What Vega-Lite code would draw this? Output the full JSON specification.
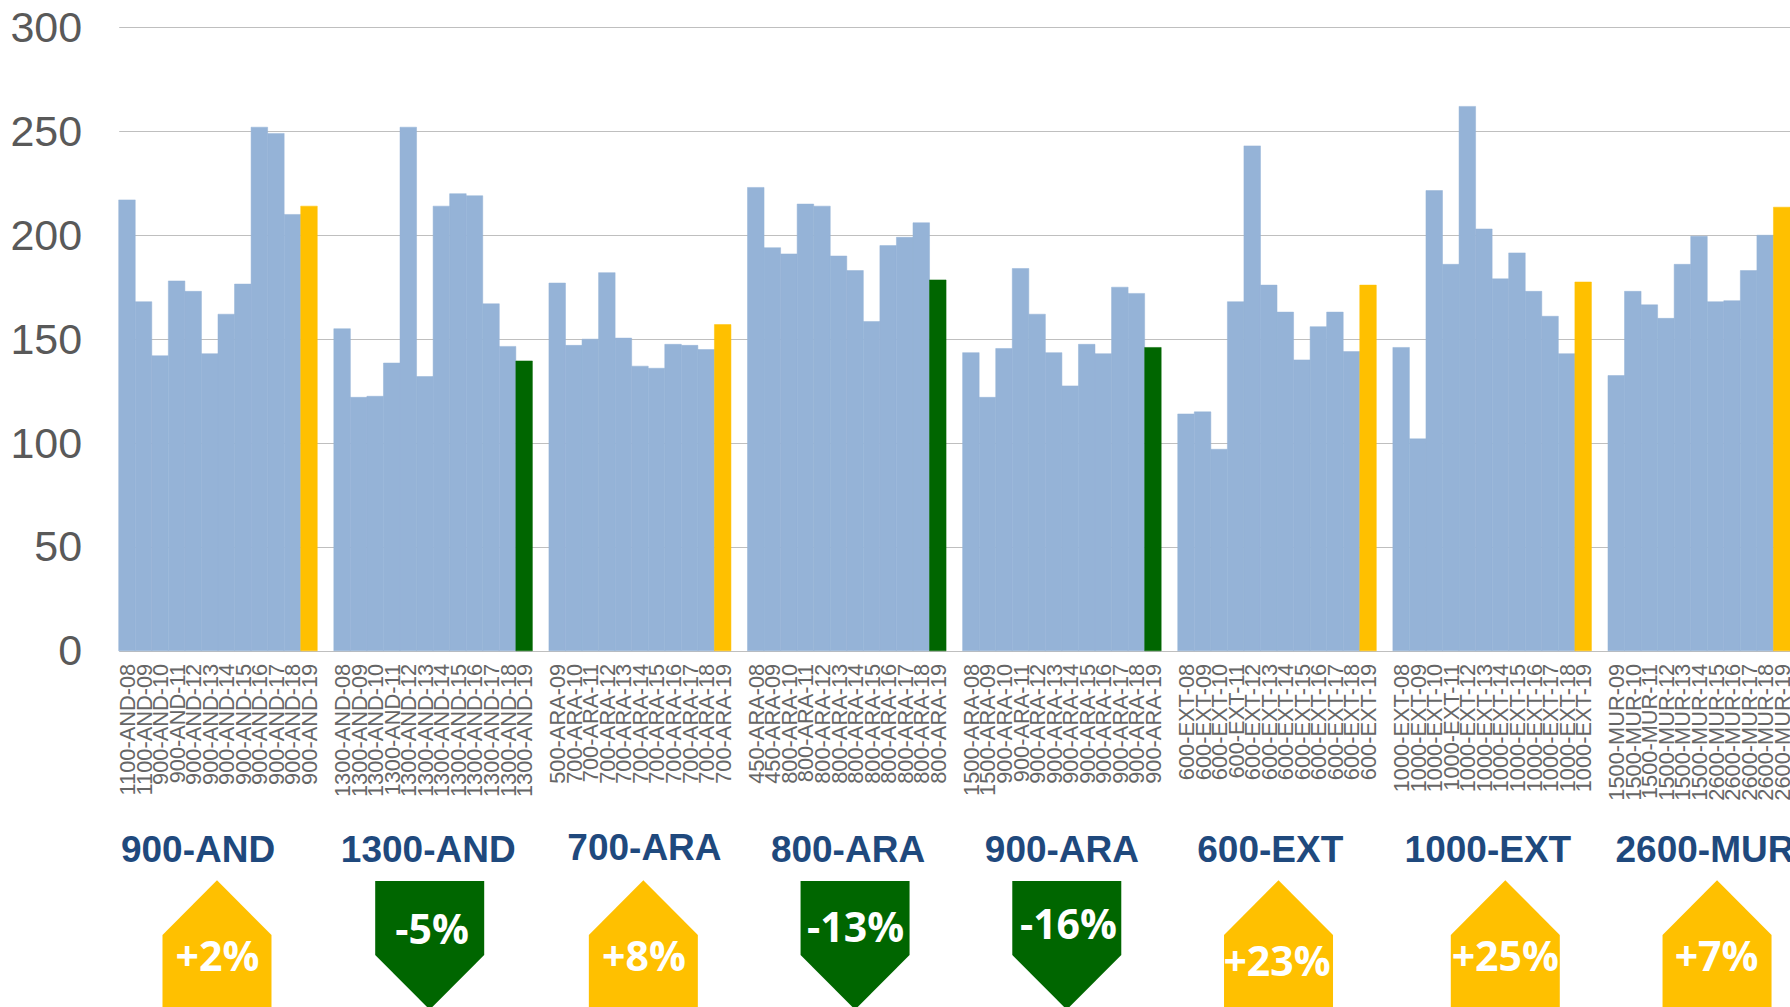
{
"$schema":"https://vega.github.io/schema/vega-lite/v6.json",
"width":1671.3,"height":1007,
"autosize":"none",
"padding":{"left":118.7,"top":0,"right":0,"bottom":0},
"background":"white",
"view":{"stroke":null},
"config":{"axis":{"labelFont":"Liberation Sans","labelColor":"#595959"}},
"datasets":{
"bars":[
{"cat":"1100-AND-08","value":217,"kind":"past"},{"cat":"1100-AND-09","value":168,"kind":"past"},{"cat":"900-AND-10","value":142,"kind":"past"},{"cat":"900-AND-11","value":178,"kind":"past"},{"cat":"900-AND-12","value":173,"kind":"past"},{"cat":"900-AND-13","value":143,"kind":"past"},{"cat":"900-AND-14","value":162,"kind":"past"},{"cat":"900-AND-15","value":176.5,"kind":"past"},{"cat":"900-AND-16","value":252,"kind":"past"},{"cat":"900-AND-17","value":249,"kind":"past"},{"cat":"900-AND-18","value":210,"kind":"past"},{"cat":"900-AND-19","value":214,"kind":"up"},
{"cat":"1300-AND-08","value":155,"kind":"past"},{"cat":"1300-AND-09","value":122,"kind":"past"},{"cat":"1300-AND-10","value":122.5,"kind":"past"},{"cat":"1300-AND-11","value":138.5,"kind":"past"},{"cat":"1300-AND-12","value":252,"kind":"past"},{"cat":"1300-AND-13","value":132,"kind":"past"},{"cat":"1300-AND-14","value":214,"kind":"past"},{"cat":"1300-AND-15","value":220,"kind":"past"},{"cat":"1300-AND-16","value":219,"kind":"past"},{"cat":"1300-AND-17","value":167,"kind":"past"},{"cat":"1300-AND-18","value":146.5,"kind":"past"},{"cat":"1300-AND-19","value":139.5,"kind":"down"},
{"cat":"500-ARA-09","value":177,"kind":"past"},{"cat":"700-ARA-10","value":147,"kind":"past"},{"cat":"700-ARA-11","value":150,"kind":"past"},{"cat":"700-ARA-12","value":182,"kind":"past"},{"cat":"700-ARA-13","value":150.5,"kind":"past"},{"cat":"700-ARA-14","value":137,"kind":"past"},{"cat":"700-ARA-15","value":136,"kind":"past"},{"cat":"700-ARA-16","value":147.5,"kind":"past"},{"cat":"700-ARA-17","value":147,"kind":"past"},{"cat":"700-ARA-18","value":145,"kind":"past"},{"cat":"700-ARA-19","value":157,"kind":"up"},
{"cat":"450-ARA-08","value":223,"kind":"past"},{"cat":"450-ARA-09","value":194,"kind":"past"},{"cat":"800-ARA-10","value":191,"kind":"past"},{"cat":"800-ARA-11","value":215,"kind":"past"},{"cat":"800-ARA-12","value":214,"kind":"past"},{"cat":"800-ARA-13","value":190,"kind":"past"},{"cat":"800-ARA-14","value":183,"kind":"past"},{"cat":"800-ARA-15","value":158.5,"kind":"past"},{"cat":"800-ARA-16","value":195,"kind":"past"},{"cat":"800-ARA-17","value":199,"kind":"past"},{"cat":"800-ARA-18","value":206,"kind":"past"},{"cat":"800-ARA-19","value":178.5,"kind":"down"},
{"cat":"1500-ARA-08","value":143.5,"kind":"past"},{"cat":"1500-ARA-09","value":122,"kind":"past"},{"cat":"900-ARA-10","value":145.5,"kind":"past"},{"cat":"900-ARA-11","value":184,"kind":"past"},{"cat":"900-ARA-12","value":162,"kind":"past"},{"cat":"900-ARA-13","value":143.5,"kind":"past"},{"cat":"900-ARA-14","value":127.5,"kind":"past"},{"cat":"900-ARA-15","value":147.5,"kind":"past"},{"cat":"900-ARA-16","value":143,"kind":"past"},{"cat":"900-ARA-17","value":175,"kind":"past"},{"cat":"900-ARA-18","value":172,"kind":"past"},{"cat":"900-ARA-19","value":146,"kind":"down"},
{"cat":"600-EXT-08","value":114,"kind":"past"},{"cat":"600-EXT-09","value":115,"kind":"past"},{"cat":"600-EXT-10","value":97,"kind":"past"},{"cat":"600-EXT-11","value":168,"kind":"past"},{"cat":"600-EXT-12","value":243,"kind":"past"},{"cat":"600-EXT-13","value":176,"kind":"past"},{"cat":"600-EXT-14","value":163,"kind":"past"},{"cat":"600-EXT-15","value":140,"kind":"past"},{"cat":"600-EXT-16","value":156,"kind":"past"},{"cat":"600-EXT-17","value":163,"kind":"past"},{"cat":"600-EXT-18","value":144,"kind":"past"},{"cat":"600-EXT-19","value":176,"kind":"up"},
{"cat":"1000-EXT-08","value":146,"kind":"past"},{"cat":"1000-EXT-09","value":102,"kind":"past"},{"cat":"1000-EXT-10","value":221.5,"kind":"past"},{"cat":"1000-EXT-11","value":186,"kind":"past"},{"cat":"1000-EXT-12","value":262,"kind":"past"},{"cat":"1000-EXT-13","value":203,"kind":"past"},{"cat":"1000-EXT-14","value":179,"kind":"past"},{"cat":"1000-EXT-15","value":191.5,"kind":"past"},{"cat":"1000-EXT-16","value":173,"kind":"past"},{"cat":"1000-EXT-17","value":161,"kind":"past"},{"cat":"1000-EXT-18","value":143,"kind":"past"},{"cat":"1000-EXT-19","value":177.5,"kind":"up"},
{"cat":"1500-MUR-09","value":132.5,"kind":"past"},{"cat":"1500-MUR-10","value":173,"kind":"past"},{"cat":"1500-MUR-11","value":166.5,"kind":"past"},{"cat":"1500-MUR-12","value":160,"kind":"past"},{"cat":"1500-MUR-13","value":186,"kind":"past"},{"cat":"1500-MUR-14","value":199.5,"kind":"past"},{"cat":"2600-MUR-15","value":168,"kind":"past"},{"cat":"2600-MUR-16","value":168.5,"kind":"past"},{"cat":"2600-MUR-17","value":183,"kind":"past"},{"cat":"2600-MUR-18","value":200,"kind":"past"},{"cat":"2600-MUR-19","value":213.5,"kind":"up"}
],
"groups":[
{"group":"900-AND","change":"+2%","dir":"up","arrowAt":"900-AND-14","labelAt":"900-AND-13"},
{"group":"1300-AND","change":"-5%","dir":"down","arrowAt":"1300-AND-14","labelAt":"1300-AND-13"},
{"group":"700-ARA","change":"+8%","dir":"up","arrowAt":"700-ARA-14","labelAt":"700-ARA-14"},
{"group":"800-ARA","change":"-13%","dir":"down","arrowAt":"800-ARA-14","labelAt":"800-ARA-14"},
{"group":"900-ARA","change":"-16%","dir":"down","arrowAt":"900-ARA-14","labelAt":"900-ARA-14"},
{"group":"600-EXT","change":"+23%","dir":"up","arrowAt":"600-EXT-14","labelAt":"600-EXT-13"},
{"group":"1000-EXT","change":"+25%","dir":"up","arrowAt":"1000-EXT-15","labelAt":"1000-EXT-13"},
{"group":"2600-MUR","change":"+7%","dir":"up","arrowAt":"2600-MUR-15","labelAt":"2600-MUR-15"}
]
},
"layer":[
{"data":{"name":"bars"},"mark":{"type":"bar","strokeWidth":0.5},
"encoding":{
"x":{"field":"cat","type":"nominal","scale":{"domain":["1100-AND-08","1100-AND-09","900-AND-10","900-AND-11","900-AND-12","900-AND-13","900-AND-14","900-AND-15","900-AND-16","900-AND-17","900-AND-18","900-AND-19","gap1","1300-AND-08","1300-AND-09","1300-AND-10","1300-AND-11","1300-AND-12","1300-AND-13","1300-AND-14","1300-AND-15","1300-AND-16","1300-AND-17","1300-AND-18","1300-AND-19","gap2","500-ARA-09","700-ARA-10","700-ARA-11","700-ARA-12","700-ARA-13","700-ARA-14","700-ARA-15","700-ARA-16","700-ARA-17","700-ARA-18","700-ARA-19","gap3","450-ARA-08","450-ARA-09","800-ARA-10","800-ARA-11","800-ARA-12","800-ARA-13","800-ARA-14","800-ARA-15","800-ARA-16","800-ARA-17","800-ARA-18","800-ARA-19","gap4","1500-ARA-08","1500-ARA-09","900-ARA-10","900-ARA-11","900-ARA-12","900-ARA-13","900-ARA-14","900-ARA-15","900-ARA-16","900-ARA-17","900-ARA-18","900-ARA-19","gap5","600-EXT-08","600-EXT-09","600-EXT-10","600-EXT-11","600-EXT-12","600-EXT-13","600-EXT-14","600-EXT-15","600-EXT-16","600-EXT-17","600-EXT-18","600-EXT-19","gap6","1000-EXT-08","1000-EXT-09","1000-EXT-10","1000-EXT-11","1000-EXT-12","1000-EXT-13","1000-EXT-14","1000-EXT-15","1000-EXT-16","1000-EXT-17","1000-EXT-18","1000-EXT-19","gap7","1500-MUR-09","1500-MUR-10","1500-MUR-11","1500-MUR-12","1500-MUR-13","1500-MUR-14","2600-MUR-15","2600-MUR-16","2600-MUR-17","2600-MUR-18","2600-MUR-19"],"paddingInner":0,"paddingOuter":0},
"axis":{"title":null,"orient":"bottom","offset":-356.2,"domain":false,"ticks":false,"labelAngle":-90,"labelAlign":"right","labelBaseline":"middle","labelFontSize":21.8,"labelPadding":12.5,"labelOffset":1,"labelOverlap":false,"labelBound":false,"labelFlush":false,"labelColor":"#666666","labelExpr":"indexof(datum.label,'gap')==0?'':datum.label"}},
"y":{"field":"value","type":"quantitative","scale":{"domain":[-171.4,313.2],"nice":false,"zero":false},
"axis":{"title":null,"values":[0,50,100,150,200,250,300],"grid":true,"gridColor":"#BFBFBF","gridWidth":1.2,"domain":false,"ticks":false,"labelFontSize":43,"labelPadding":37,"labelOffset":1,"labelColor":"#595959","labelBound":false}},
"color":{"field":"kind","type":"nominal","legend":null,"scale":{"domain":["past","up","down"],"range":["#95B3D7","#FFC000","#006600"]}},
"stroke":{"field":"kind","type":"nominal","legend":null,"scale":{"domain":["past","up","down"],"range":["#95B3D7","#FFC000","#006600"]}}
}},
{"data":{"name":"groups"},"transform":[{"filter":"datum.group=='900-AND'"}],"mark":{"type":"point","filled":true,"opacity":1,"size":11881,"strokeWidth":0,"xOffset":-1},
"encoding":{"x":{"field":"arrowAt","type":"nominal","bandPosition":0},"y":{"datum":-139.2},
"shape":{"field":"dir","type":"nominal","legend":null,"scale":{"domain":["up","down"],"range":["M0,-1.1L1,-0.092L1,1.3L-1,1.3L-1,-0.092Z","M-1,-1.082L1,-1.082L1,0.275L0,1.276L-1,0.275Z"]}},
"color":{"field":"dir","type":"nominal","legend":null}}},
{"data":{"name":"groups"},"transform":[{"filter":"datum.group=='1300-AND'"}],"mark":{"type":"point","filled":true,"opacity":1,"size":11881,"strokeWidth":0,"xOffset":-3.4},
"encoding":{"x":{"field":"arrowAt","type":"nominal","bandPosition":0},"y":{"datum":-139.2},"shape":{"field":"dir","type":"nominal","legend":null},"color":{"field":"dir","type":"nominal","legend":null}}},
{"data":{"name":"groups"},"transform":[{"filter":"datum.group=='700-ARA'"}],"mark":{"type":"point","filled":true,"opacity":1,"size":11881,"strokeWidth":0,"xOffset":3.4},
"encoding":{"x":{"field":"arrowAt","type":"nominal","bandPosition":0.5},"y":{"datum":-139.2},"shape":{"field":"dir","type":"nominal","legend":null},"color":{"field":"dir","type":"nominal","legend":null}}},
{"data":{"name":"groups"},"transform":[{"filter":"datum.group=='800-ARA'"}],"mark":{"type":"point","filled":true,"opacity":1,"size":11881,"strokeWidth":0},
"encoding":{"x":{"field":"arrowAt","type":"nominal","bandPosition":0.5},"y":{"datum":-139.2},"shape":{"field":"dir","type":"nominal","legend":null},"color":{"field":"dir","type":"nominal","legend":null}}},
{"data":{"name":"groups"},"transform":[{"filter":"datum.group=='900-ARA'"}],"mark":{"type":"point","filled":true,"opacity":1,"size":11881,"strokeWidth":0,"xOffset":-3.4},
"encoding":{"x":{"field":"arrowAt","type":"nominal","bandPosition":0.5},"y":{"datum":-139.2},"shape":{"field":"dir","type":"nominal","legend":null},"color":{"field":"dir","type":"nominal","legend":null}}},
{"data":{"name":"groups"},"transform":[{"filter":"datum.group=='600-EXT'"}],"mark":{"type":"point","filled":true,"opacity":1,"size":11881,"strokeWidth":0,"xOffset":1.5},
"encoding":{"x":{"field":"arrowAt","type":"nominal","bandPosition":0},"y":{"datum":-139.2},"shape":{"field":"dir","type":"nominal","legend":null},"color":{"field":"dir","type":"nominal","legend":null}}},
{"data":{"name":"groups"},"transform":[{"filter":"datum.group=='1000-EXT'"}],"mark":{"type":"point","filled":true,"opacity":1,"size":11881,"strokeWidth":0,"xOffset":-3.4},
"encoding":{"x":{"field":"arrowAt","type":"nominal","bandPosition":0},"y":{"datum":-139.2},"shape":{"field":"dir","type":"nominal","legend":null},"color":{"field":"dir","type":"nominal","legend":null}}},
{"data":{"name":"groups"},"transform":[{"filter":"datum.group=='2600-MUR'"}],"mark":{"type":"point","filled":true,"opacity":1,"size":11881,"strokeWidth":0,"xOffset":1.5},
"encoding":{"x":{"field":"arrowAt","type":"nominal","bandPosition":0.5},"y":{"datum":-139.2},"shape":{"field":"dir","type":"nominal","legend":null},"color":{"field":"dir","type":"nominal","legend":null}}},

{"data":{"name":"groups"},"transform":[{"filter":"datum.group=='900-AND'"}],"mark":{"type":"text","font":"Open Sans","fontWeight":"bold","fontSize":41,"color":"white","xOffset":-0.5},"encoding":{"x":{"field":"arrowAt","type":"nominal","bandPosition":0},"y":{"datum":-148.5},"text":{"field":"change"}}},
{"data":{"name":"groups"},"transform":[{"filter":"datum.group=='1300-AND'"}],"mark":{"type":"text","font":"Open Sans","fontWeight":"bold","fontSize":41,"color":"white","xOffset":-1},"encoding":{"x":{"field":"arrowAt","type":"nominal","bandPosition":0},"y":{"datum":-135.1},"text":{"field":"change"}}},
{"data":{"name":"groups"},"transform":[{"filter":"datum.group=='700-ARA'"}],"mark":{"type":"text","font":"Open Sans","fontWeight":"bold","fontSize":41,"color":"white","xOffset":4},"encoding":{"x":{"field":"arrowAt","type":"nominal","bandPosition":0.5},"y":{"datum":-148.5},"text":{"field":"change"}}},
{"data":{"name":"groups"},"transform":[{"filter":"datum.group=='800-ARA'"}],"mark":{"type":"text","font":"Open Sans","fontWeight":"bold","fontSize":41,"color":"white","xOffset":0.5},"encoding":{"x":{"field":"arrowAt","type":"nominal","bandPosition":0.5},"y":{"datum":-134.5},"text":{"field":"change"}}},
{"data":{"name":"groups"},"transform":[{"filter":"datum.group=='900-ARA'"}],"mark":{"type":"text","font":"Open Sans","fontWeight":"bold","fontSize":41,"color":"white","xOffset":-1.7},"encoding":{"x":{"field":"arrowAt","type":"nominal","bandPosition":0.5},"y":{"datum":-132.9},"text":{"field":"change"}}},
{"data":{"name":"groups"},"transform":[{"filter":"datum.group=='600-EXT'"}],"mark":{"type":"text","font":"Open Sans","fontWeight":"bold","fontSize":41,"color":"white"},"encoding":{"x":{"field":"arrowAt","type":"nominal","bandPosition":0},"y":{"datum":-150.6},"text":{"field":"change"}}},
{"data":{"name":"groups"},"transform":[{"filter":"datum.group=='1000-EXT'"}],"mark":{"type":"text","font":"Open Sans","fontWeight":"bold","fontSize":41,"color":"white","xOffset":-3.4},"encoding":{"x":{"field":"arrowAt","type":"nominal","bandPosition":0},"y":{"datum":-148.5},"text":{"field":"change"}}},
{"data":{"name":"groups"},"transform":[{"filter":"datum.group=='2600-MUR'"}],"mark":{"type":"text","font":"Open Sans","fontWeight":"bold","fontSize":41,"color":"white","xOffset":1},"encoding":{"x":{"field":"arrowAt","type":"nominal","bandPosition":0.5},"y":{"datum":-148.5},"text":{"field":"change"}}},

{"data":{"name":"groups"},"transform":[{"filter":"datum.group=='900-AND'"}],"mark":{"type":"text","font":"Liberation Sans","fontWeight":"bold","fontSize":37,"color":"#1F497D","xOffset":-3.4},"encoding":{"x":{"field":"labelAt","type":"nominal","bandPosition":0},"y":{"datum":-96.5},"text":{"field":"group"}}},
{"data":{"name":"groups"},"transform":[{"filter":"datum.group=='1300-AND'"}],"mark":{"type":"text","font":"Liberation Sans","fontWeight":"bold","fontSize":37,"color":"#1F497D","xOffset":3.4},"encoding":{"x":{"field":"labelAt","type":"nominal","bandPosition":0.5},"y":{"datum":-96.5},"text":{"field":"group"}}},
{"data":{"name":"groups"},"transform":[{"filter":"datum.group=='700-ARA'"}],"mark":{"type":"text","font":"Liberation Sans","fontWeight":"bold","fontSize":37,"color":"#1F497D","xOffset":4.5},"encoding":{"x":{"field":"labelAt","type":"nominal","bandPosition":0.5},"y":{"datum":-95.4},"text":{"field":"group"}}},
{"data":{"name":"groups"},"transform":[{"filter":"datum.group=='800-ARA'"}],"mark":{"type":"text","font":"Liberation Sans","fontWeight":"bold","fontSize":37,"color":"#1F497D","xOffset":1.2},"encoding":{"x":{"field":"labelAt","type":"nominal","bandPosition":0},"y":{"datum":-96.5},"text":{"field":"group"}}},
{"data":{"name":"groups"},"transform":[{"filter":"datum.group=='900-ARA'"}],"mark":{"type":"text","font":"Liberation Sans","fontWeight":"bold","fontSize":37,"color":"#1F497D"},"encoding":{"x":{"field":"labelAt","type":"nominal","bandPosition":0},"y":{"datum":-96.5},"text":{"field":"group"}}},
{"data":{"name":"groups"},"transform":[{"filter":"datum.group=='600-EXT'"}],"mark":{"type":"text","font":"Liberation Sans","fontWeight":"bold","fontSize":37,"color":"#1F497D","xOffset":1.5},"encoding":{"x":{"field":"labelAt","type":"nominal","bandPosition":0.5},"y":{"datum":-96.5},"text":{"field":"group"}}},
{"data":{"name":"groups"},"transform":[{"filter":"datum.group=='1000-EXT'"}],"mark":{"type":"text","font":"Liberation Sans","fontWeight":"bold","fontSize":37,"color":"#1F497D","xOffset":4},"encoding":{"x":{"field":"labelAt","type":"nominal","bandPosition":0.5},"y":{"datum":-96.5},"text":{"field":"group"}}},
{"data":{"name":"groups"},"transform":[{"filter":"datum.group=='2600-MUR'"}],"mark":{"type":"text","font":"Liberation Sans","fontWeight":"bold","fontSize":37,"color":"#1F497D","xOffset":-2.3},"encoding":{"x":{"field":"labelAt","type":"nominal","bandPosition":0},"y":{"datum":-96.5},"text":{"field":"group"}}}
]
}
